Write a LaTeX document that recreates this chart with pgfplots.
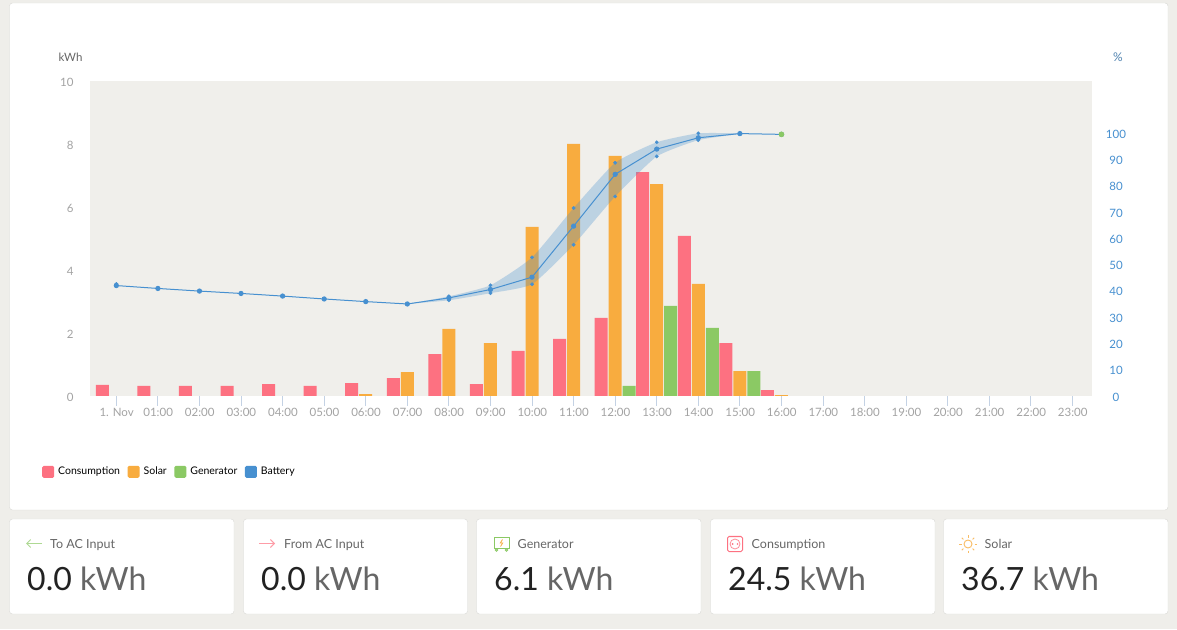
\documentclass[border=0pt]{standalone}
\usepackage{fontspec}
\setmainfont{Lato}
\usepackage{pgfplots}
\pgfplotsset{compat=1.18}
\usepgfplotslibrary{fillbetween}
\usetikzlibrary{arrows.meta}

\definecolor{pagebg}{HTML}{EFEEEA}
\definecolor{plotbg}{HTML}{F0EFEB}
\definecolor{cardline}{HTML}{D9D9D6}
\definecolor{consum}{HTML}{FD7181}
\definecolor{solar}{HTML}{F8AC3F}
\definecolor{gener}{HTML}{8BC964}
\definecolor{batt}{HTML}{4790D0}
\definecolor{ticklab}{HTML}{A3A3A3}
\definecolor{tickline}{HTML}{C4D2E4}
\definecolor{labtext}{HTML}{666666}
\definecolor{valtext}{HTML}{222222}

% one stat card: left edge, right edge, label, value, label offset
\newcommand{\statcard}[5]{%
  \fill[white,draw=cardline,rounded corners=3pt] (#1pt,15pt) rectangle (#2pt,110pt);
  \node[anchor=base west,inner sep=0pt,text=labtext,font=\fontsize{12.5pt}{14pt}\selectfont] at (#1pt+#5pt,81pt) {#3};
  \node[anchor=base west,inner sep=0pt,font=\fontsize{32pt}{35pt}\selectfont] at (#1pt+17.5pt,39pt) {\textcolor{valtext}{#4} \textcolor{labtext}{kWh}};
}

\begin{document}
\begin{tikzpicture}[x=1pt,y=1pt]
\fill[pagebg] (0,0) rectangle (1177,629);
\fill[white,draw=cardline,rounded corners=3pt] (9.5,119) rectangle (1168,626);

\statcard{9.5}{234}{To AC Input}{0.0}{40.5}
\statcard{243.5}{467.5}{From AC Input}{0.0}{40.5}
\statcard{476.5}{701}{Generator}{6.1}{41}
\statcard{710.5}{935}{Consumption}{24.5}{41}
\statcard{943.5}{1168}{Solar}{36.7}{41}

% card icons
\draw[gener!70,line width=0.9pt,-{Straight Barb[length=4pt,width=8pt]}] (42,85.5) -- (26,85.5);
\draw[consum!70,line width=0.9pt,-{Straight Barb[length=4pt,width=8pt]}] (259,85.5) -- (275,85.5);
\draw[gener,line width=0.9pt] (494,81) rectangle (509,91.5);
\draw[gener,line width=0.8pt] (496.5,79) circle (1.2) (506.5,79) circle (1.2);
\draw[solar,line width=0.8pt] (502.5,89.5) -- (500.3,86) -- (502.7,86) -- (500.5,82.5);
\draw[consum,line width=1pt,rounded corners=1.5pt] (727.5,77.5) rectangle (742.5,92.5);
\draw[consum!80,line width=0.8pt] (735,85) circle (5);
\fill[consum] (732.6,85) circle (0.9) (737.4,85) circle (0.9);
\draw[solar!80,line width=0.9pt] (968,85) circle (4);
\foreach \a in {0,45,...,315}
  \draw[solar!80,line width=0.9pt] (968,85) ++(\a:6.5) -- ++(\a:2.3);

\begin{axis}[
  at={(90pt,233pt)},anchor=south west,
  scale only axis,width=1002pt,height=315pt,
  xmin=-0.633,xmax=23.47,ymin=0,ymax=10,
  axis background/.style={fill=plotbg},
  axis line style={draw=none},
  axis y line*=left,
  axis x line*=bottom,
  ybar,bar width=13pt,
  xtick={0,1,...,23},
  xticklabels={1. Nov,01:00,02:00,03:00,04:00,05:00,06:00,07:00,08:00,09:00,10:00,11:00,12:00,13:00,14:00,15:00,16:00,17:00,18:00,19:00,20:00,21:00,22:00,23:00},
  ytick={0,2,...,10},
  /pgf/number format/assume math mode=true,
  tick align=outside,
  xtick style={draw=tickline,line width=0.8pt},
  major tick length=10pt,
  ytick style={draw=none},
  every x tick label/.append style={text=ticklab,font=\fontsize{11.5pt}{13pt}\selectfont,yshift=1pt,xshift=0.3pt},
  every y tick label/.append style={text=ticklab,font=\fontsize{11.5pt}{13pt}\selectfont},
  y tick label style={xshift=-3pt,yshift=-1pt},
  clip=false,
  legend columns=4,
  legend cell align=left,
  legend style={at={(-48pt,-69pt)},anchor=north west,draw=none,fill=none,inner sep=0pt,
    font=\fontsize{10.5pt}{12pt}\selectfont,
    /tikz/every even column/.append style={column sep=5.6pt},
    /tikz/every odd column/.append style={column sep=2pt}},
  legend image code/.code={\fill[#1,rounded corners=1.5pt] (0pt,-6pt) rectangle (12pt,6pt);},
]
\addplot[fill=consum,draw=none,bar shift=-14pt] coordinates {
(0,0.35)(1,0.32)(2,0.32)(3,0.32)(4,0.38)(5,0.32)(6,0.41)(7,0.57)(8,1.33)(9,0.38)
(10,1.43)(11,1.81)(12,2.48)(13,7.11)(14,5.08)(15,1.68)(16,0.19)};
\addlegendentry{Consumption}
\addplot[fill=solar,draw=none,bar shift=0pt] coordinates {
(6,0.06)(7,0.76)(8,2.13)(9,1.68)(10,5.37)(11,8.00)(12,7.62)(13,6.73)(14,3.56)(15,0.79)(16,0.03)};
\addlegendentry{Solar}
\addplot[fill=gener,draw=none,bar shift=14pt] coordinates {
(12,0.32)(13,2.86)(14,2.16)(15,0.79)};
\addlegendentry{Generator}
\addlegendimage{fill=batt,draw=none}
\addlegendentry{Battery}
\end{axis}

\begin{axis}[
  at={(90pt,233pt)},anchor=south west,
  scale only axis,width=1002pt,height=315pt,
  xmin=-0.633,xmax=23.47,ymin=0,ymax=119.8,
  axis line style={draw=none},
  axis y line*=right,
  axis x line=none,
  ytick={0,10,...,100},
  /pgf/number format/assume math mode=true,
  ytick style={draw=none},
  every y tick label/.append style={text=batt,font=\fontsize{11.5pt}{13pt}\selectfont},
  y tick label style={anchor=center,xshift=24pt,yshift=-1pt},
  clip=false,
]
\addplot[name path=upper,draw=none,smooth,tension=0.3,forget plot] coordinates {
(7,35.0)(8,37.9)(9,42.1)(10,52.7)(11,71.5)(12,88.7)(13,96.5)(14,99.9)(15,99.9)};
\addplot[name path=lower,draw=none,smooth,tension=0.3,forget plot] coordinates {
(7,35.0)(8,36.4)(9,39.1)(10,42.5)(11,57.5)(12,75.9)(13,91.1)(14,97.3)(15,99.7)};
\addplot[fill=batt,fill opacity=0.3,draw=none,forget plot] fill between[of=upper and lower,on layer=main];
\addplot[batt,line width=1pt,mark=*,mark size=2.1pt,mark options={draw=none,fill=batt}] coordinates {
(0,42.0)(1,40.9)(2,39.9)(3,39.0)(4,38.0)(5,36.9)(6,35.9)(7,35.0)(8,37.3)(9,40.5)
(10,45.2)(11,64.6)(12,84.3)(13,93.9)(14,98.2)(15,99.8)(16,99.5)};
\addplot[batt,only marks,mark=*,mark size=1.7pt,mark options={draw=none,fill=batt}] coordinates {
(0,42.6)(8,37.9)(9,42.1)(10,52.7)(11,71.5)(12,88.7)(13,96.5)(14,99.9)
(8,36.4)(9,39.1)(10,42.5)(11,57.5)(12,75.9)(13,91.1)(14,97.3)};
\addplot[gener,only marks,mark=*,mark size=2.6pt,mark options={draw=none,fill=gener}] coordinates {(16,99.5)};
\end{axis}

\node[text=labtext,font=\fontsize{11.5pt}{14pt}\selectfont] at (70.5,572) {kWh};
\node[text=batt!70!labtext,font=\fontsize{12pt}{14pt}\selectfont] at (1118,572) {\%};
\end{tikzpicture}
\end{document}
